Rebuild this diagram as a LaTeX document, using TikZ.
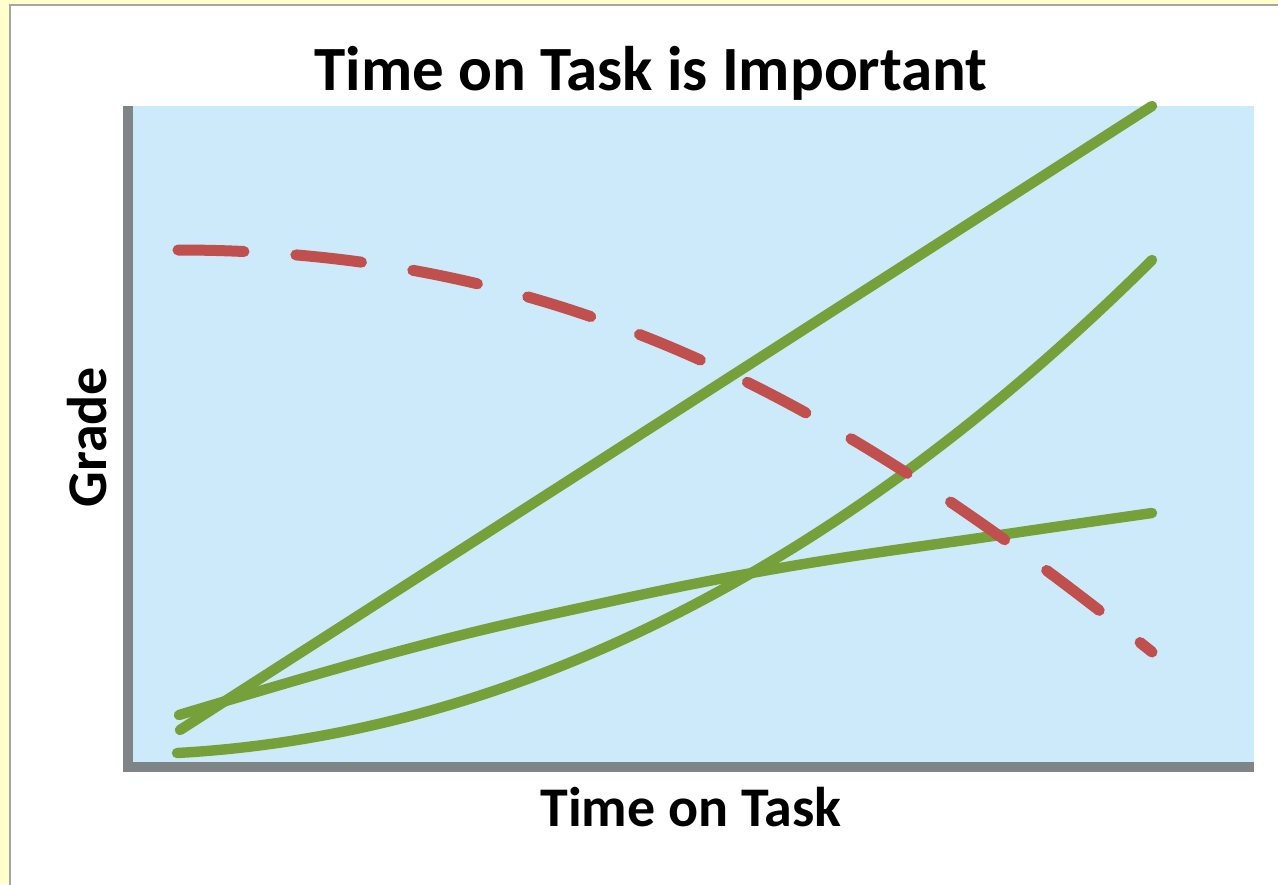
\documentclass[tikz,border=0pt]{standalone}
\usepackage{fontspec}
\setmainfont{Carlito}
\definecolor{bgyellow}{HTML}{FFFFCC}
\definecolor{framegray}{HTML}{A6A6A6}
\definecolor{plotblue}{HTML}{CCEAFA}
\definecolor{axisgray}{HTML}{7F8487}
\definecolor{lineGreen}{HTML}{76A03A}
\definecolor{lineRed}{HTML}{C0504D}
\begin{document}
\begin{tikzpicture}[x=0.5pt,y=-0.5pt,
  greenline/.style={draw=lineGreen, line width=5.2pt, line cap=round},
  redline/.style={draw=lineRed, line width=5.5pt, line cap=round, dash pattern=on 33pt off 26pt},
  axislabel/.style={font=\bfseries\fontsize{28}{30}\selectfont, inner sep=0pt},
  titlelabel/.style={font=\bfseries\fontsize{31.5}{34}\selectfont, inner sep=0pt}
]
\useasboundingbox (0,0) rectangle (1278,884);
\fill[bgyellow] (0,0) rectangle (1278,884);
\filldraw[fill=white, draw=framegray, line width=1pt] (10,5) rectangle (1300,900);
% plot area
\fill[plotblue] (133,106) rectangle (1254,762);
\fill[axisgray] (123,106) rectangle (133,772);
\fill[axisgray] (123,762) rectangle (1254,772);
% texts
\node[titlelabel, anchor=base] (title) at (651,90) {Time on Task is Important};
\node[axislabel, rotate=90, anchor=base] (ylab) at (106,437) {Grade};
\node[axislabel, anchor=base] (xlab) at (691,826) {Time on Task};
% curves
\coordinate (g1s) at (180,730);
\coordinate (g1e) at (1152,106);
\draw[greenline] (g1s) -- (g1e);
\draw[greenline] plot[smooth, tension=0.7] coordinates {(179,715) (400,651) (580,608) (780,568) (1000,535) (1152,513)};
\coordinate (g3s) at (177,753);
\coordinate (g3e) at (1152,260);
\draw[greenline] (g3s) .. controls (504,735) and (835,575) .. (g3e);
\coordinate (rs) at (178,250);
\coordinate (re) at (1152,652);
\draw[redline] (rs) .. controls (578,250) and (852,412) .. (re);
\end{tikzpicture}
\end{document}
